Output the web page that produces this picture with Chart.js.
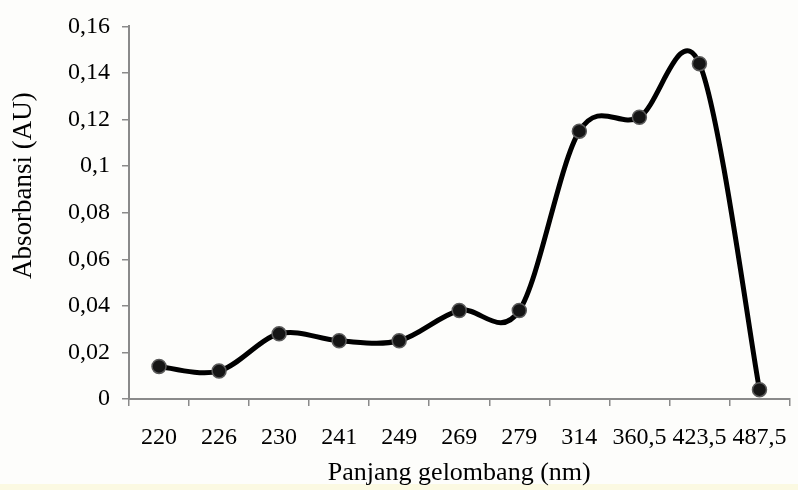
<!DOCTYPE html>
<html>
<head>
<meta charset="utf-8">
<script src="https://cdn.jsdelivr.net/npm/chart.js@4"></script>
<style>
  html, body { margin: 0; padding: 0; background: #fdfdfb; }
  #wrap { width: 798px; height: 490px; }
</style>
</head>
<body>
<div id="wrap"><canvas id="absChart" width="798" height="490"></canvas></div>
<script>
// wavelengths (nm) as shown on the x axis
const wavelengths = ['220', '226', '230', '241', '249', '269', '279', '314', '360,5', '423,5', '487,5'];
// absorbance (AU)
const absorbance = [0.014, 0.012, 0.028, 0.025, 0.025, 0.038, 0.038, 0.115, 0.121, 0.144, 0.004];
const yMax = 0.16;
const yStep = 0.02;

const serif = "'Liberation Serif', 'Times New Roman', serif";

// page background with the pale strip along the bottom edge
const backdrop = {
    id: 'backdrop',
    beforeDraw(chart) {
        const ctx = chart.ctx;
        ctx.save();
        ctx.fillStyle = '#fdfdfb';
        ctx.fillRect(0, 0, chart.width, chart.height);
        ctx.fillStyle = '#fbf9e2';
        ctx.fillRect(0, chart.height - 6, chart.width, 6);
        ctx.restore();
    }
};

// spreadsheet-style smoothing: uniform catmull-rom control points
const smoothLine = {
    id: 'smoothLine',
    beforeDatasetDraw(chart, args) {
        const meta = args.meta;
        const pts = meta.data;
        if (meta.dataset && meta.dataset.updateControlPoints) {
            meta.dataset.updateControlPoints(chart.chartArea, meta.indexAxis);
        }
        for (let i = 0; i < pts.length; i++) {
            const p = pts[i];
            const a = pts[Math.max(i - 1, 0)];
            const b = pts[Math.min(i + 1, pts.length - 1)];
            const dx = (b.x - a.x) / 6;
            const dy = (b.y - a.y) / 6;
            p.cp1x = p.x - dx; p.cp1y = p.y - dy;
            p.cp2x = p.x + dx; p.cp2y = p.y + dy;
        }
    }
};

var absCanvas = document.getElementById('absChart').getContext('2d');
var absChart = new Chart(absCanvas, {
    type: 'line',
    data: {
        labels: wavelengths,
        datasets: [{
            data: absorbance,
            borderColor: '#000000',
            borderWidth: 5,
            tension: 0.4,
            pointRadius: 7,
            pointBackgroundColor: '#151515',
            pointBorderColor: '#5a5a5a',
            pointBorderWidth: 1.5,
            fill: false
        }]
    },
    options: {
        responsive: false,
        animation: false,
        layout: { padding: { top: 24, right: 7, bottom: 0, left: 0 } },
        plugins: {
            legend: { display: false },
            tooltip: { enabled: false }
        },
        scales: {
            x: {
                offset: true,
                grid: {
                    display: true,
                    offset: true,
                    drawOnChartArea: false,
                    drawTicks: true,
                    tickLength: 7,
                    color: '#8a8a8a',
                    lineWidth: 1.5
                },
                border: { color: '#8a8a8a', width: 2 },
                ticks: {
                    color: '#000',
                    font: { family: serif, size: 24 },
                    padding: 17,
                    maxRotation: 0,
                    autoSkip: false
                },
                title: {
                    display: true,
                    text: 'Panjang gelombang (nm)',
                    color: '#000',
                    font: { family: serif, size: 26 },
                    padding: { top: 0, bottom: 1 }
                },
                afterFit(scale) {
                    scale.height = 91;
                    scale.paddingLeft = 0;
                    scale.paddingRight = 0;
                }
            },
            y: {
                min: 0,
                max: yMax,
                grid: {
                    display: true,
                    drawOnChartArea: false,
                    drawTicks: true,
                    tickLength: 7,
                    color: '#8a8a8a',
                    lineWidth: 1.5
                },
                border: { color: '#8a8a8a', width: 2 },
                ticks: {
                    stepSize: yStep,
                    color: '#000',
                    font: { family: serif, size: 24 },
                    padding: 12,
                    callback: function (v) {
                        return String(Math.round(v * 100) / 100).replace('.', ',');
                    }
                },
                title: {
                    display: true,
                    // leading spaces lift the title toward the top like the original
                    text: '\u00a0'.repeat(8) + 'Absorbansi (AU)',
                    color: '#000',
                    font: { family: serif, size: 27 },
                    padding: { top: 8, bottom: 0 }
                },
                afterFit(scale) { scale.width = 129; }
            }
        }
    },
    plugins: [backdrop, smoothLine]
});
</script>
</body>
</html>
